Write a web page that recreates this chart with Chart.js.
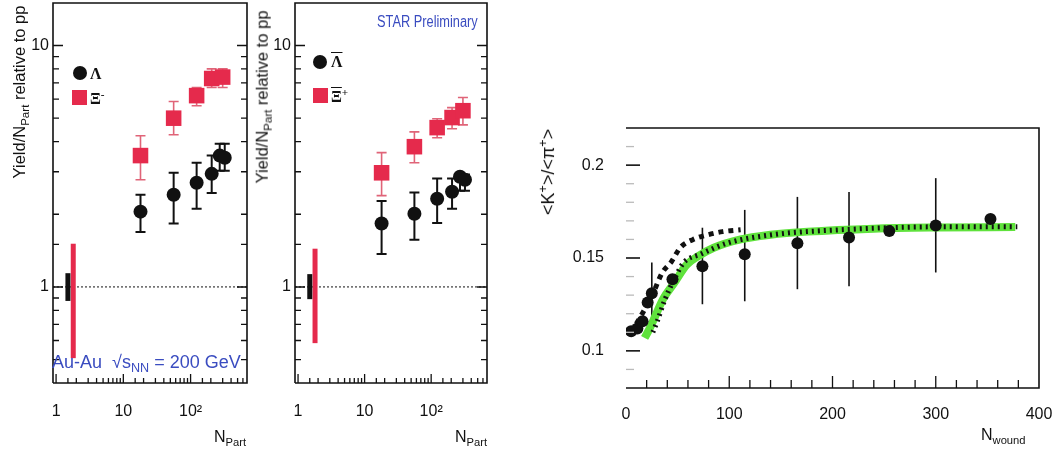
<!DOCTYPE html>
<html>
<head>
<meta charset="utf-8">
<script src="https://cdn.jsdelivr.net/npm/chart.js@4.4.0/dist/chart.umd.min.js"></script>
<style>
  body { margin: 0; background: #fff; }
  #wrap { position: relative; width: 1058px; height: 456px; overflow: hidden;
          font-family: "Liberation Sans", Arial, sans-serif; color: #111; }
  canvas { position: absolute; }
  .lbl { position: absolute; white-space: nowrap; line-height: 1; }
  .ytitle { position: absolute; white-space: nowrap; line-height: 1; font-size: 16.5px;
            transform: translate(-50%, -50%) rotate(-90deg); }
  sub { font-size: 70%; vertical-align: -0.35em; }
  sup { font-size: 70%; vertical-align: 0.55em; }
  .dot { position: absolute; width: 14px; height: 14px; border-radius: 50%; background: #111; }
  .sq { position: absolute; width: 15px; height: 15px; background: #e52a4c; }
  .sym { position: absolute; font-family: "Liberation Serif", "DejaVu Serif", serif; font-weight: bold; font-size: 16px; line-height: 1; }
  .blue { color: #3a4cc0; }
  .ov { text-decoration: overline; }
  .narrow { transform: scaleX(0.8); transform-origin: left center; }
</style>
</head>
<body>
<div id="wrap">
  <!-- the two yield canvases sit 8px high: Chart.js keeps 11px above the box for the big markers -->
  <canvas id="left" width="260" height="456" style="left:0;top:-8px"></canvas>
  <canvas id="mid" width="260" height="456" style="left:242px;top:-8px"></canvas>
  <canvas id="right" width="528" height="356" style="left:530px;top:100px"></canvas>

  <div class="ytitle" style="left:21px;top:92px">Yield/N<sub>Part</sub> relative to pp</div>
  <div class="dot" style="left:73px;top:66px"></div>
  <div class="sym" style="left:90px;top:66px">Λ</div>
  <div class="sq" style="left:72px;top:90px"></div>
  <div class="sym" style="left:90px;top:89px">Ξ<sup>-</sup></div>
  <div class="lbl blue" style="left:52px;top:353px;font-size:18px">Au-Au &nbsp;√s<sub>NN</sub> = 200 GeV</div>
  <div class="lbl" style="left:214px;top:429px;font-size:16px">N<sub>Part</sub></div>

  <div class="ytitle" style="left:264px;top:97px">Yield/N<sub>Part</sub> relative to pp</div>
  <div class="lbl blue narrow" style="left:377px;top:14px;font-size:16px">STAR Preliminary</div>
  <div class="dot" style="left:313px;top:55px"></div>
  <div class="sym" style="left:331px;top:54px"><span class="ov">Λ</span></div>
  <div class="sq" style="left:313px;top:88px"></div>
  <div class="sym" style="left:331px;top:87px"><span class="ov">Ξ</span><sup>+</sup></div>
  <div class="lbl" style="left:455px;top:429px;font-size:16px">N<sub>Part</sub></div>

  <div class="ytitle" style="left:547px;top:172px;font-size:18px">&lt;K<sup>+</sup>&gt;/&lt;π<sup>+</sup>&gt;</div>
  <div class="lbl" style="left:981px;top:427px;font-size:16px">N<sub>wound</sub></div>
</div>
<script>
// centrality bins (N_part) used in both yield panels
const nPart = [18, 56, 123, 206, 271, 322];
const nPartXi = [18, 56, 123, 206, 300];

// left panel: Lambda and Xi-
const lambdaYield = [2.05, 2.41, 2.70, 2.94, 3.50, 3.43];
const lambdaLow = [1.69, 1.83, 2.11, 2.45, 3.03, 3.03];
const lambdaHigh = [2.41, 2.97, 3.27, 3.50, 3.92, 3.92];
const xiMinusYield = [3.5, 5.0, 6.2, 7.3, 7.4];
const xiMinusLow = [2.78, 4.27, 5.63, 6.7, 6.7];
const xiMinusHigh = [4.23, 5.86, 6.7, 8.0, 8.0];

// middle panel: anti-Lambda and anti-Xi+
const antiLambdaYield = [1.83, 2.01, 2.32, 2.48, 2.86, 2.78];
const antiLambdaLow = [1.37, 1.57, 1.84, 2.11, 2.5, 2.5];
const antiLambdaHigh = [2.27, 2.46, 2.81, 2.81, 2.92, 2.92];
const xiPlusYield = [2.97, 3.81, 4.57, 5.03, 5.37];
const xiPlusLow = [2.39, 3.27, 4.15, 4.52, 4.69];
const xiPlusHigh = [3.6, 4.39, 4.97, 5.53, 6.09];

// pp normalisation uncertainty bands drawn near N_part = 1
const refX = [1.5, 1.8];
const refLeftBlack = [0.875, 1.14];
const refLeftRed = [0.507, 1.51];
const refMidBlack = [0.89, 1.13];
const refMidRed = [0.585, 1.44];

// right panel: <K+>/<pi+> vs N_wound
const nWound = [5, 11, 16, 21, 25, 45, 74, 115, 166, 216, 255, 300, 353];
const kPiRatio = [0.1105, 0.112, 0.116, 0.126, 0.131, 0.1385, 0.1455, 0.152, 0.158, 0.161, 0.1645, 0.1675, 0.171];
const kPiLow = [null, null, null, null, 0.112, null, 0.1251, 0.1267, 0.1332, 0.1348, null, 0.1422, null];
const kPiHigh = [null, null, null, null, 0.1476, null, 0.1663, 0.1759, 0.1829, 0.1856, null, 0.193, null];

const greenX = [18, 22, 27, 36, 46, 59, 70, 85, 111, 140, 176, 240, 300, 377];
const greenY = [0.107, 0.111, 0.117, 0.128, 0.136, 0.1465, 0.151, 0.1555, 0.16, 0.1625, 0.1642, 0.1658, 0.1664, 0.1667];
const dashedX = [5, 13.6, 25, 35, 44, 52.6, 65, 80, 93.5, 111];
const dashedY = [0.110, 0.118, 0.1294, 0.142, 0.148, 0.1556, 0.16, 0.1626, 0.1642, 0.1652];
const dottedX = [26, 30, 38, 48, 56, 72, 98, 143, 208, 306, 379];
const dottedY = [0.110, 0.1155, 0.128, 0.140, 0.1476, 0.152, 0.158, 0.1626, 0.1652, 0.1668, 0.1668];

const yieldTicks = [1, 10];
const kPiTicks = [0.1, 0.15, 0.2];

Chart.defaults.font.family = '"Liberation Sans", Arial, sans-serif';
Chart.defaults.font.size = 16;
Chart.defaults.color = '#111';

const RED = '#e52a4c';

const toPoints = (xs, ys) => xs.map((x, i) => ({ x: x, y: ys[i] }));

// keep the plot box exactly where the reference has it
const fixX = h => s => { s.height = h; s.paddingLeft = 0; s.paddingRight = 0; };
const fixY = w => s => { s.width = w; s.paddingTop = 0; s.paddingBottom = 0; };

// vertical error bars, from errLow/errHigh arrays stored on the dataset
const errorBars = {
    id: 'errorBars',
    beforeDatasetsDraw(chart) {
        const ctx = chart.ctx;
        const y = chart.scales.y;
        chart.data.datasets.forEach((ds, i) => {
            if (!ds.errLow) return;
            const meta = chart.getDatasetMeta(i);
            ctx.save();
            ctx.strokeStyle = ds.errColor;
            ctx.lineWidth = ds.errWidth;
            meta.data.forEach((pt, j) => {
                if (ds.errLow[j] == null) return;
                const y1 = y.getPixelForValue(ds.errLow[j]);
                const y2 = y.getPixelForValue(ds.errHigh[j]);
                const c = ds.errCap;
                ctx.beginPath();
                ctx.moveTo(pt.x, y1);
                ctx.lineTo(pt.x, y2);
                if (c) {
                    ctx.moveTo(pt.x - c, y1); ctx.lineTo(pt.x + c, y1);
                    ctx.moveTo(pt.x - c, y2); ctx.lineTo(pt.x + c, y2);
                }
                ctx.stroke();
            });
            ctx.restore();
        });
    }
};

// ROOT style box with inward tick marks
const frame = {
    id: 'frame',
    afterDatasetsDraw(chart, args, opts) {
        const ctx = chart.ctx;
        const a = chart.chartArea;
        const xs = chart.scales.x;
        const ys = chart.scales.y;
        ctx.save();
        ctx.lineWidth = 1.6;
        ctx.strokeStyle = '#111';
        ctx.beginPath();
        if (opts.leftLine) {
            ctx.moveTo(a.left, a.bottom);
            ctx.lineTo(a.left, a.top);
        } else {
            ctx.moveTo(a.left, a.top);
        }
        ctx.lineTo(a.right, a.top);
        ctx.lineTo(a.right, a.bottom);
        ctx.lineTo(a.left, a.bottom);
        ctx.stroke();

        ctx.lineWidth = 1.3;
        xs.ticks.forEach(t => {
            const px = xs.getPixelForValue(t.value);
            if (px < a.left + 2 || px > a.right - 2) return;
            const len = t.label ? opts.xMajor : opts.xMinor;
            ctx.strokeStyle = '#111';
            ctx.beginPath();
            ctx.moveTo(px, a.bottom);
            ctx.lineTo(px, a.bottom - len);
            ctx.stroke();
        });
        ys.ticks.forEach(t => {
            const py = ys.getPixelForValue(t.value);
            if (py < a.top + 2 || py > a.bottom - 2) return;
            const len = t.label ? opts.yMajor : opts.yMinor;
            ctx.strokeStyle = t.label ? '#111' : opts.minorColor;
            ctx.lineWidth = t.label ? 1.6 : 1.3;
            ctx.beginPath();
            ctx.moveTo(a.left, py);
            ctx.lineTo(a.left + len, py);
            if (opts.rightTicks) {
                ctx.moveTo(a.right, py);
                ctx.lineTo(a.right - len, py);
            }
            ctx.stroke();
        });
        ctx.restore();
    }
};

function yieldPanel(id, padRight, sets) {
    const ctx = document.getElementById(id).getContext('2d');
    // datasets listed top-most first (Chart.js paints the last one first)
    return new Chart(ctx, {
        type: 'scatter',
        data: {
            datasets: [
                {
                    data: toPoints(nPart, sets.lam),
                    errLow: sets.lamLow, errHigh: sets.lamHigh,
                    errColor: '#111', errWidth: 2, errCap: 5,
                    pointStyle: 'circle', pointRadius: 7,
                    backgroundColor: '#111', borderColor: '#111', borderWidth: 0
                },
                {
                    data: toPoints(nPartXi, sets.xi),
                    errLow: sets.xiLow, errHigh: sets.xiHigh,
                    errColor: '#e06478', errWidth: 1.6, errCap: 5,
                    pointStyle: 'rect', pointRadius: 11,
                    backgroundColor: RED, borderColor: RED, borderWidth: 0
                },
                {
                    data: [{ x: refX[0], y: sets.refBlack[0] }, { x: refX[0], y: sets.refBlack[1] }],
                    showLine: true, borderColor: '#111', borderWidth: 5,
                    borderCapStyle: 'butt', pointRadius: 0
                },
                {
                    data: [{ x: refX[1], y: sets.refRed[0] }, { x: refX[1], y: sets.refRed[1] }],
                    showLine: true, borderColor: RED, borderWidth: 5,
                    borderCapStyle: 'butt', pointRadius: 0
                },
                {
                    data: [{ x: 0.9, y: 1 }, { x: 690, y: 1 }],
                    showLine: true, borderColor: '#111', borderWidth: 1,
                    borderDash: [2, 2], pointRadius: 0
                }
            ]
        },
        options: {
            responsive: false,
            animation: false,
            layout: { padding: { top: 3, right: padRight, left: 0, bottom: 0 } },
            plugins: {
                legend: { display: false },
                tooltip: { enabled: false },
                frame: { leftLine: true, rightTicks: true, xMajor: 9, xMinor: 5, yMajor: 10, yMinor: 6, minorColor: '#111' }
            },
            scales: {
                x: {
                    type: 'logarithmic', min: 0.9, max: 690,
                    afterFit: fixX(65),
                    grid: { display: false, drawTicks: false },
                    border: { display: false },
                    ticks: {
                        padding: 19, autoSkip: false, maxRotation: 0,
                        callback: v => v === 1 ? '1' : v === 10 ? '10' : v === 100 ? '10²' : ''
                    }
                },
                y: {
                    type: 'logarithmic', min: 0.4, max: 15,
                    afterFit: fixY(53),
                    grid: { display: false, drawTicks: false },
                    border: { display: false },
                    ticks: {
                        padding: 4, autoSkip: false,
                        callback: v => yieldTicks.includes(v) ? String(v) : ''
                    }
                }
            }
        },
        plugins: [errorBars, frame]
    });
}

yieldPanel('left', 13, {
    lam: lambdaYield, lamLow: lambdaLow, lamHigh: lambdaHigh,
    xi: xiMinusYield, xiLow: xiMinusLow, xiHigh: xiMinusHigh,
    refBlack: refLeftBlack, refRed: refLeftRed
});

yieldPanel('mid', 15, {
    lam: antiLambdaYield, lamLow: antiLambdaLow, lamHigh: antiLambdaHigh,
    xi: xiPlusYield, xiLow: xiPlusLow, xiHigh: xiPlusHigh,
    refBlack: refMidBlack, refRed: refMidRed
});

new Chart(document.getElementById('right').getContext('2d'), {
    type: 'scatter',
    data: {
        datasets: [
            {
                data: toPoints(nWound, kPiRatio),
                errLow: kPiLow, errHigh: kPiHigh,
                errColor: '#111', errWidth: 1.6, errCap: 0,
                pointStyle: 'circle', pointRadius: 6,
                backgroundColor: '#111', borderColor: '#111', borderWidth: 0
            },
            {
                data: toPoints(dashedX, dashedY),
                showLine: true, borderColor: '#111', borderWidth: 5,
                borderDash: [5, 5], cubicInterpolationMode: 'monotone', pointRadius: 0
            },
            {
                data: toPoints(dottedX, dottedY),
                showLine: true, borderColor: '#111', borderWidth: 5,
                borderDash: [2, 4], cubicInterpolationMode: 'monotone', pointRadius: 0
            },
            {
                data: toPoints(greenX, greenY),
                showLine: true, borderColor: '#5fe23c', borderWidth: 8,
                cubicInterpolationMode: 'monotone', pointRadius: 0
            }
        ]
    },
    options: {
        responsive: false,
        animation: false,
        layout: { padding: { top: 28, right: 19, left: 0, bottom: 0 } },
        plugins: {
            legend: { display: false },
            tooltip: { enabled: false },
            frame: { leftLine: false, rightTicks: false, xMajor: 12, xMinor: 8, yMajor: 14, yMinor: 8, minorColor: '#bbb' }
        },
        scales: {
            x: {
                type: 'linear', min: 0, max: 400,
                afterFit: fixX(68),
                grid: { display: false, drawTicks: false },
                border: { display: false },
                ticks: {
                    stepSize: 20, padding: 17, autoSkip: false, maxRotation: 0,
                    callback: v => v % 100 === 0 ? String(v) : ''
                }
            },
            y: {
                type: 'linear', min: 0.08, max: 0.22,
                afterFit: fixY(96),
                grid: { display: false, drawTicks: false },
                border: { display: false },
                ticks: {
                    stepSize: 0.01, padding: 22, autoSkip: false,
                    callback: v => {
                        const hit = kPiTicks.find(t => Math.abs(t - v) < 1e-6);
                        return hit === undefined ? '' : String(hit);
                    }
                }
            }
        }
    },
    plugins: [errorBars, frame]
});
</script>
</body>
</html>
